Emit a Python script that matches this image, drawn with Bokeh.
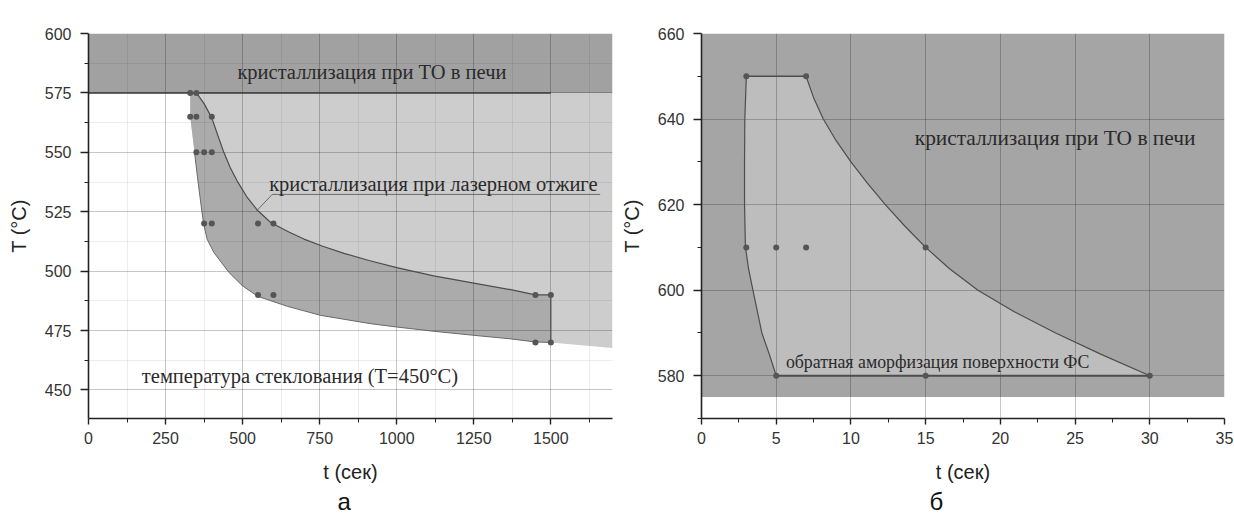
from bokeh.plotting import figure
from bokeh.layouts import row
from bokeh.models import FixedTicker, Label, Range1d, Title
from bokeh.embed import file_html
from bokeh.resources import INLINE

# ---------------- panel "а" data ----------------
a_t_range = [0, 1700]
a_T_range = [438, 600]
a_x_ticks = [0, 250, 500, 750, 1000, 1250, 1500]
a_x_minor = [125, 375, 625, 875, 1125, 1375, 1625]
a_y_ticks = [450, 475, 500, 525, 550, 575, 600]
a_y_minor = [437.5, 462.5, 487.5, 512.5, 537.5, 562.5, 587.5]

a_furnace_T = [575, 600]          # furnace crystallisation band
a_furnace_line_t = [0, 1500]      # boundary line at 575

# upper (right) boundary of the laser-annealing crystallisation zone
a_upper_t = [350, 375, 400, 420, 439, 460, 482, 515, 549, 591, 650, 699, 760, 829, 910, 1000, 1120, 1250, 1370, 1450, 1500, 1500]
a_upper_T = [575, 570.5, 564.5, 557, 550, 543.5, 538, 531, 525.5, 520.5, 516.5, 513.5, 510.5, 507.5, 504.5, 501.5, 498, 495, 492.2, 490, 490, 470]
# lower (left) boundary
a_lower_t = [330, 330, 344, 355, 362, 368, 374, 385, 407, 456, 499, 549, 645, 753, 915, 1000, 1120, 1250, 1370, 1450, 1500]
a_lower_T = [575, 565, 550, 538, 531, 525, 519.6, 513.4, 507.8, 499.4, 493.9, 489.4, 485.2, 481.4, 477.9, 476.5, 474.7, 473, 471.5, 470.2, 470]
# continuation of the light zone's lower edge
a_edge_t = [1500, 1700]
a_edge_T = [470, 467.7]

a_pts_t = [330, 350, 330, 350, 400, 350, 375, 400, 375, 400, 550, 600, 550, 600, 1450, 1500, 1450, 1500]
a_pts_T = [575, 575, 565, 565, 565, 550, 550, 550, 520, 520, 520, 520, 490, 490, 490, 490, 470, 470]

a_leader_t = [1660, 596, 545]
a_leader_T = [532.3, 532.3, 525.3]

a_texts = ["кристаллизация при ТО в печи",
           "кристаллизация при лазерном отжиге",
           "температура стеклования (T=450°C)"]
a_text_t = [483, 586, 173]
a_text_T = [583.8, 536.7, 455.9]

# ---------------- panel "б" data ----------------
b_t_range = [0, 35]
b_T_range = [570, 660]
b_x_ticks = [0, 5, 10, 15, 20, 25, 30, 35]
b_x_minor = [2.5, 7.5, 12.5, 17.5, 22.5, 27.5, 32.5]
b_y_ticks = [580, 600, 620, 640, 660]
b_y_minor = [570, 590, 610, 630, 650]

b_furnace_T = [575, 660]

b_top_t = [3, 7]
b_top_T = [650, 650]
b_right_t = [7, 7.5, 8.15, 9.0, 10.0, 11.1, 12.3, 13.6, 15.0, 16.6, 18.5, 20.9, 23.7, 26.75, 30]
b_right_T = [650, 645, 640, 635, 630, 625, 620, 615, 610, 605, 600, 595, 590, 585, 580]
b_bottom_t = [30, 5]
b_bottom_T = [580, 580]
b_left_t = [5, 4.54, 4.04, 3.44, 3.15, 2.94, 2.88, 2.88, 2.9, 3]
b_left_T = [580, 585, 590, 600, 605, 610, 620, 630, 640, 650]

b_pts_t = [3, 7, 3, 5, 7, 15, 5, 15, 30]
b_pts_T = [650, 650, 610, 610, 610, 610, 580, 580, 580]

b_texts = ["кристаллизация при ТО в печи", "обратная аморфизация поверхности ФС"]
b_text_t = [14.27, 5.65]
b_text_T = [635.6, 583.3]
b_text_size = ["21.4px", "17.8px"]

panel_names = ["а", "б"]

SANS = "Liberation Sans"
SERIF = "Liberation Serif"
LINE = "#4d4d4d"
PT = "#555555"


def style_axes(p, xt, xm, yt, ym, xlabel, ylabel):
    p.xaxis.ticker = FixedTicker(ticks=xt, minor_ticks=xm)
    p.yaxis.ticker = FixedTicker(ticks=yt, minor_ticks=ym)
    p.xgrid.ticker = FixedTicker(ticks=xt, minor_ticks=xm)
    p.ygrid.ticker = FixedTicker(ticks=yt, minor_ticks=ym)
    for ax in (p.xaxis[0], p.yaxis[0]):
        ax.axis_line_color = "#222222"
        ax.axis_line_width = 1.6
        ax.major_tick_line_color = "#222222"
        ax.minor_tick_line_color = "#222222"
        ax.major_tick_line_width = 1.4
        ax.major_tick_in = 0
        ax.minor_tick_in = 0
        ax.major_label_text_font = SANS
        ax.major_label_text_font_size = "16px"
        ax.major_label_text_color = "#333333"
        ax.axis_label_text_font = SANS
        ax.axis_label_text_font_style = "normal"
        ax.axis_label_text_font_size = "20px"
        ax.axis_label_text_color = "#222222"
    p.xaxis.major_tick_out = 6
    p.xaxis.minor_tick_out = 4
    p.yaxis.major_tick_out = 8
    p.yaxis.minor_tick_out = 4
    p.xaxis.major_label_standoff = 7
    p.yaxis.major_label_standoff = 9
    p.xaxis.axis_label_standoff = 14
    p.yaxis.axis_label_standoff = 12
    p.xaxis.axis_label = xlabel
    p.yaxis.axis_label = ylabel
    for g in (p.xgrid[0], p.ygrid[0]):
        g.grid_line_color = "black"
        g.grid_line_alpha = 0.22
        g.grid_line_width = 1


def panel_title(p, text, offset):
    p.add_layout(Title(text=text, align="left", offset=offset, standoff=0,
                       text_font=SANS, text_font_size="24px", text_font_style="normal",
                       text_color="#111111"), "below")


# ---------------- figure а ----------------
pa = figure(width=617, height=515, output_backend="svg", toolbar_location=None,
            x_range=Range1d(*a_t_range), y_range=Range1d(*a_T_range),
            min_border_left=88, min_border_right=5, min_border_top=33, min_border_bottom=95)
pa.outline_line_color = None
pa.background_fill_color = "white"
pa.border_fill_color = "white"
style_axes(pa, a_x_ticks, a_x_minor, a_y_ticks, a_y_minor, "t (сек)", "T (°C)")
for g in (pa.xgrid[0], pa.ygrid[0]):
    g.minor_grid_line_color = "black"
    g.minor_grid_line_alpha = 0.07

pa.quad(left=a_t_range[0], right=a_t_range[1], bottom=a_furnace_T[0], top=a_furnace_T[1],
        fill_color="#a1a1a1", line_color=None, level="image")
light_t = [a_lower_t[0], a_edge_t[1], a_edge_t[1]] + a_lower_t[::-1]
light_T = [a_furnace_T[0], a_furnace_T[0], a_edge_T[1]] + a_lower_T[::-1]
pa.patch(light_t, light_T, fill_color="#cdcdcd", line_color=None, level="image")
dark_t = a_upper_t + a_lower_t[::-1]
dark_T = a_upper_T + a_lower_T[::-1]
pa.patch(dark_t, dark_T, fill_color="#ababab", line_color=None, level="image")

pa.line(a_furnace_line_t, [a_furnace_T[0]] * 2, line_color="#3a3a3a", line_width=1.5)
pa.line(a_upper_t, a_upper_T, line_color=LINE, line_width=1.2)
pa.line(a_lower_t[2:], a_lower_T[2:], line_color="#6a6a6a", line_width=1)
pa.line(a_leader_t, a_leader_T, line_color="#6a6a6a", line_width=1)
pa.scatter(a_pts_t, a_pts_T, size=6, fill_color=PT, line_color=None)

for txt, tx, ty in zip(a_texts, a_text_t, a_text_T):
    pa.add_layout(Label(x=tx, y=ty, text=txt, text_font=SERIF, text_font_size="20.5px",
                        text_color="#2a2a2a", text_baseline="middle", text_align="left"))
panel_title(pa, panel_names[0], 249)

# ---------------- figure б ----------------
pb = figure(width=617, height=515, output_backend="svg", toolbar_location=None,
            x_range=Range1d(*b_t_range), y_range=Range1d(*b_T_range),
            min_border_left=80, min_border_right=10, min_border_top=21, min_border_bottom=97)
pb.outline_line_color = None
pb.background_fill_color = "white"
pb.border_fill_color = "white"
style_axes(pb, b_x_ticks, b_x_minor, b_y_ticks, b_y_minor, "t (сек)", "T (°C)")

pb.quad(left=b_t_range[0], right=b_t_range[1], bottom=b_furnace_T[0], top=b_furnace_T[1],
        fill_color="#a5a5a5", line_color=None, level="image")
shape_t = b_top_t + b_right_t[1:] + b_bottom_t[1:] + b_left_t[1:]
shape_T = b_top_T + b_right_T[1:] + b_bottom_T[1:] + b_left_T[1:]
pb.patch(shape_t, shape_T, fill_color="#bdbdbd", line_color=None, level="image")
pb.line(b_top_t, b_top_T, line_color=LINE, line_width=1.5)
pb.line(b_right_t, b_right_T, line_color=LINE, line_width=1.2)
pb.line(b_bottom_t, b_bottom_T, line_color=LINE, line_width=2)
pb.line(b_left_t, b_left_T, line_color=LINE, line_width=1.2)
pb.scatter(b_pts_t, b_pts_T, size=6, fill_color=PT, line_color=None)

for txt, tx, ty, fs in zip(b_texts, b_text_t, b_text_T, b_text_size):
    pb.add_layout(Label(x=tx, y=ty, text=txt, text_font=SERIF, text_font_size=fs,
                        text_color="#2a2a2a", text_baseline="middle", text_align="left"))
panel_title(pb, panel_names[1], 228)

layout = row(pa, pb, spacing=0)
open("out.html", "w").write(file_html(layout, INLINE))
